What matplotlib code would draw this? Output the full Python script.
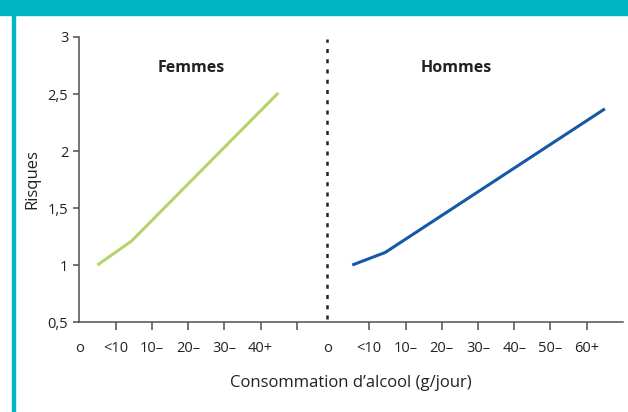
import matplotlib
matplotlib.use("Agg")
import matplotlib.pyplot as plt
from matplotlib.patches import Rectangle

plt.rcParams['font.family'] = ['Open Sans', 'DejaVu Sans']

# tick positions / labels on the x axis (category slots)
femmes_ticks = [0, 1, 2, 3, 4, 5]
femmes_labels = ['<10', '10\u2013', '20\u2013', '30\u2013', '40+', '']
hommes_ticks = [7, 8, 9, 10, 11, 12, 13]
hommes_labels = ['<10', '10\u2013', '20\u2013', '30\u2013', '40\u2013', '50\u2013', '60+']
zero_pos = [-1, 5.84]          # the two "o" (no drinking) labels
split_x = 5.84                 # dashed separator

# risk curves (x in category slots, y = relative risk)
femmes_x = [-0.5, 0.44, 4.49]
femmes_y = [1.0, 1.21, 2.51]
hommes_x = [6.53, 7.44, 13.5]
hommes_y = [1.0, 1.11, 2.37]

yticks = [0.5, 1, 1.5, 2, 2.5, 3]
ytick_labels = ['0,5', '1', '1,5', '2', '2,5', '3']

teal = '#00b5c1'
axis_col = '#505050'
txt_col = '#222222'

fig = plt.figure(figsize=(6.28, 4.12), dpi=100)
ax = fig.add_axes([0.1263, 0.2184, 0.8657, 0.6918])

# frame decoration
fig.patches.append(Rectangle((0, 0.9636), 1, 0.0364, transform=fig.transFigure,
                             color=teal, zorder=0))
fig.patches.append(Rectangle((0.019, 0), 0.0048, 0.9636, transform=fig.transFigure,
                             color=teal, zorder=0))

ax.plot(femmes_x, femmes_y, color='#b5d46a', lw=2.2, solid_capstyle='butt')
ax.plot(hommes_x, hommes_y, color='#1657a8', lw=2.2, solid_capstyle='butt')
ax.plot([split_x, split_x], [0.53, 2.98], color='#222222', lw=1.8,
        linestyle=(0, (1.6, 2.5)))

ax.set_xlim(-1, 14)
ax.set_ylim(0.5, 3)

ax.set_xticks(femmes_ticks + hommes_ticks, femmes_labels + hommes_labels)
ax.set_xticks(zero_pos, ['o', 'o'], minor=True)
ax.set_yticks(yticks, ytick_labels)

for s in ['top', 'right']:
    ax.spines[s].set_visible(False)
for s in ['left', 'bottom']:
    ax.spines[s].set_color(axis_col)
    ax.spines[s].set_linewidth(1.1)

ax.tick_params(axis='x', which='major', length=5.5, width=1.1, color=axis_col,
               pad=8, labelsize=10.5, labelcolor=txt_col)
ax.tick_params(axis='x', which='minor', length=0, pad=13.5, labelsize=10.5,
               labelcolor=txt_col)
ax.tick_params(axis='y', length=4.5, width=1.1, color=axis_col, pad=3.5,
               labelsize=10.5, labelcolor=txt_col)

ax.set_ylabel('Risques', fontsize=12, color=txt_col, labelpad=5)
ax.set_xlabel('Consommation d\u2019alcool (g/jour)', fontsize=12,
              color=txt_col, labelpad=14)

ax.text(2.1, 2.73, 'Femmes', fontsize=11.5, fontweight='bold', ha='center',
        va='center', color=txt_col)
ax.text(9.4, 2.73, 'Hommes', fontsize=11.5, fontweight='bold', ha='center',
        va='center', color=txt_col)

fig.savefig('out.png', dpi=100)
